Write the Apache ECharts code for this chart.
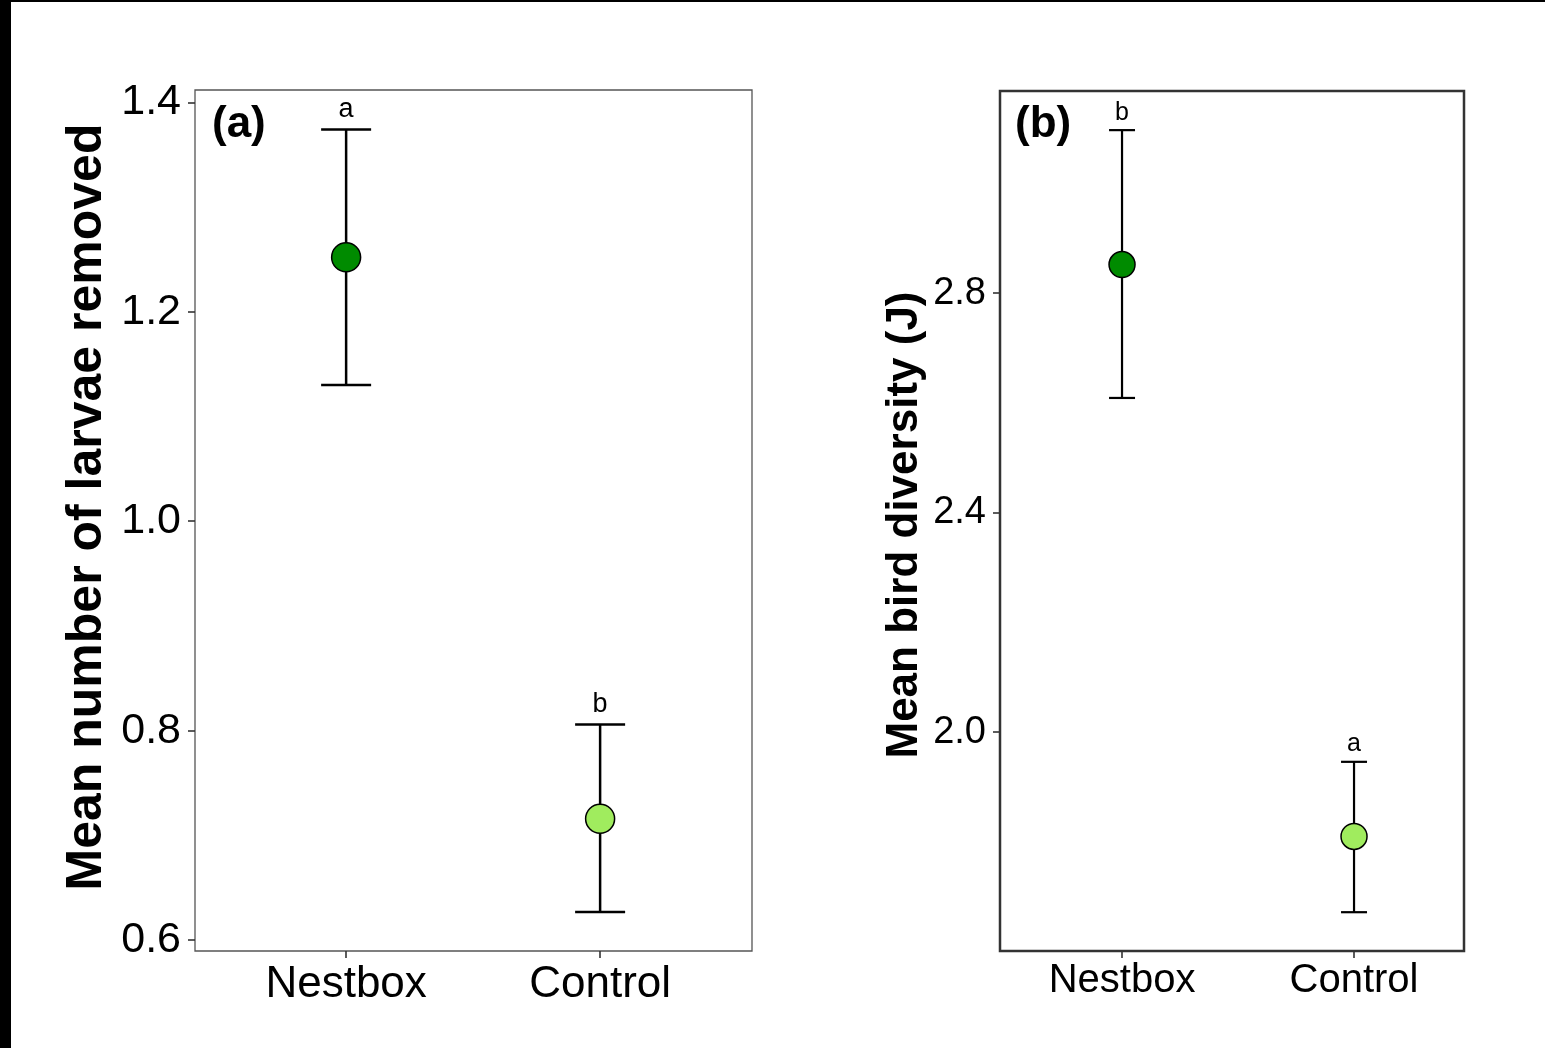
<!DOCTYPE html>
<html>
<head>
<meta charset="utf-8">
<script src="https://cdn.jsdelivr.net/npm/echarts@6/dist/echarts.min.js"></script>
<style>
  html, body { margin: 0; padding: 0; background: #fff; }
  #chart { width: 1545px; height: 1048px; }
</style>
</head>
<body>
<div id="chart"></div>
<script>
// Treatment groups (shared by both panels)
const categories = ['Nestbox', 'Control'];

// Panel (a): larvae removed — mean with lower/upper error limits
const larvaeMean = [1.252, 0.716];
const larvaeLow = [1.130, 0.627];
const larvaeHigh = [1.374, 0.806];
const larvaeLetters = ['a', 'b'];
const larvaeTicks = [0.6, 0.8, 1.0, 1.2, 1.4];

// Panel (b): bird diversity (J) — mean with lower/upper error limits
const diversityMean = [2.852, 1.810];
const diversityLow = [2.609, 1.672];
const diversityHigh = [3.097, 1.946];
const diversityLetters = ['b', 'a'];
const diversityTicks = [2.0, 2.4, 2.8];

// Group colours
const groupColors = ['#008B00', '#A0EC5E'];

const FONT = '"Liberation Sans", Arial, Helvetica, sans-serif';
const catPositions = categories.map((c, i) => i + 1);

function errorRenderer(letters, capHalf, lineW, labelSize, labelGap) {
  return function (params, api) {
    const x = api.value(0), lo = api.value(1), hi = api.value(2);
    const pHi = api.coord([x, hi]);
    const pLo = api.coord([x, lo]);
    const st = { stroke: '#000', lineWidth: lineW };
    return {
      type: 'group',
      children: [
        { type: 'line', shape: { x1: pHi[0], y1: pHi[1], x2: pLo[0], y2: pLo[1] }, style: st },
        { type: 'line', shape: { x1: pHi[0] - capHalf, y1: pHi[1], x2: pHi[0] + capHalf, y2: pHi[1] }, style: st },
        { type: 'line', shape: { x1: pLo[0] - capHalf, y1: pLo[1], x2: pLo[0] + capHalf, y2: pLo[1] }, style: st },
        {
          type: 'text', x: pHi[0], y: pHi[1] - labelGap,
          style: {
            text: letters[params.dataIndex], fill: '#000', fontSize: labelSize,
            fontFamily: FONT, align: 'center', verticalAlign: 'bottom'
          }
        }
      ]
    };
  };
}

function errData(low, high) {
  return catPositions.map((x, i) => [x, low[i], high[i]]);
}
function pointData(mean) {
  return catPositions.map((x, i) => [x, mean[i]]);
}

function xAxisFor(gridIndex, min, max, fontSize, margin) {
  return {
    type: 'value', gridIndex, min, max,
    splitLine: { show: false },
    axisLine: { show: false },
    axisTick: { show: true, customValues: catPositions, length: 7, lineStyle: { color: '#333', width: 1.6 } },
    axisLabel: {
      show: true, customValues: catPositions, margin,
      formatter: v => categories[Math.round(v) - 1] || '',
      color: '#000', fontSize, fontFamily: FONT
    }
  };
}
function yAxisFor(gridIndex, min, max, ticks, fontSize, margin) {
  return {
    type: 'value', gridIndex, min, max,
    splitLine: { show: false },
    axisLine: { show: false },
    axisTick: { show: true, customValues: ticks, length: 7, lineStyle: { color: '#333', width: 1.6 } },
    axisLabel: {
      show: true, customValues: ticks, margin,
      formatter: v => v.toFixed(1),
      color: '#000', fontSize, fontFamily: FONT
    }
  };
}

const chart = echarts.init(document.getElementById('chart'), null, { renderer: 'canvas' });

chart.setOption({
  backgroundColor: '#fff',
  animation: false,
  grid: [
    { left: 195, top: 90, width: 557, height: 861, show: true, borderColor: '#555', borderWidth: 1.3, backgroundColor: 'transparent' },
    { left: 1000, top: 91, width: 464, height: 860, show: true, borderColor: '#333', borderWidth: 2.5, backgroundColor: 'transparent' }
  ],
  xAxis: [
    xAxisFor(0, 0.405, 2.598, 44, 12),
    xAxisFor(1, 0.474, 2.474, 40, 10)
  ],
  yAxis: [
    yAxisFor(0, 0.5897, 1.4117, larvaeTicks, 43, 14),
    yAxisFor(1, 1.6013, 3.1683, diversityTicks, 38, 14)
  ],
  series: [
    {
      type: 'custom', xAxisIndex: 0, yAxisIndex: 0, clip: false, z: 2,
      renderItem: errorRenderer(larvaeLetters, 25, 2.5, 27, 6),
      data: errData(larvaeLow, larvaeHigh)
    },
    {
      type: 'scatter', xAxisIndex: 0, yAxisIndex: 0, z: 3, symbolSize: 29,
      itemStyle: { color: p => groupColors[p.dataIndex], borderColor: '#000', borderWidth: 1.5, opacity: 1 },
      data: pointData(larvaeMean)
    },
    {
      type: 'custom', xAxisIndex: 1, yAxisIndex: 1, clip: false, z: 2,
      renderItem: errorRenderer(diversityLetters, 13, 2.2, 25, 5),
      data: errData(diversityLow, diversityHigh)
    },
    {
      type: 'scatter', xAxisIndex: 1, yAxisIndex: 1, z: 3, symbolSize: 26,
      itemStyle: { color: p => groupColors[p.dataIndex], borderColor: '#000', borderWidth: 1.5, opacity: 1 },
      data: pointData(diversityMean)
    }
  ],
  graphic: [
    // frame edges
    { type: 'rect', left: 0, top: 0, shape: { width: 11, height: 1048 }, style: { fill: '#000' }, silent: true },
    { type: 'rect', left: 0, top: 0, shape: { width: 1545, height: 2 }, style: { fill: '#000' }, silent: true },
    // axis titles
    {
      type: 'text', x: 87, y: 507, rotation: Math.PI / 2,
      style: { text: 'Mean number of larvae removed', fontSize: 50, fontWeight: 'bold', fontFamily: FONT, fill: '#000', align: 'center', verticalAlign: 'middle' }
    },
    {
      type: 'text', x: 905, y: 525, rotation: Math.PI / 2,
      style: { text: 'Mean bird diversity (J)', fontSize: 44, fontWeight: 'bold', fontFamily: FONT, fill: '#000', align: 'center', verticalAlign: 'middle' }
    },
    // panel tags
    {
      type: 'text', x: 212, y: 125,
      style: { text: '(a)', fontSize: 44, fontWeight: 'bold', fontFamily: FONT, fill: '#000', align: 'left', verticalAlign: 'middle' }
    },
    {
      type: 'text', x: 1015, y: 125,
      style: { text: '(b)', fontSize: 44, fontWeight: 'bold', fontFamily: FONT, fill: '#000', align: 'left', verticalAlign: 'middle' }
    }
  ]
});
</script>
</body>
</html>
